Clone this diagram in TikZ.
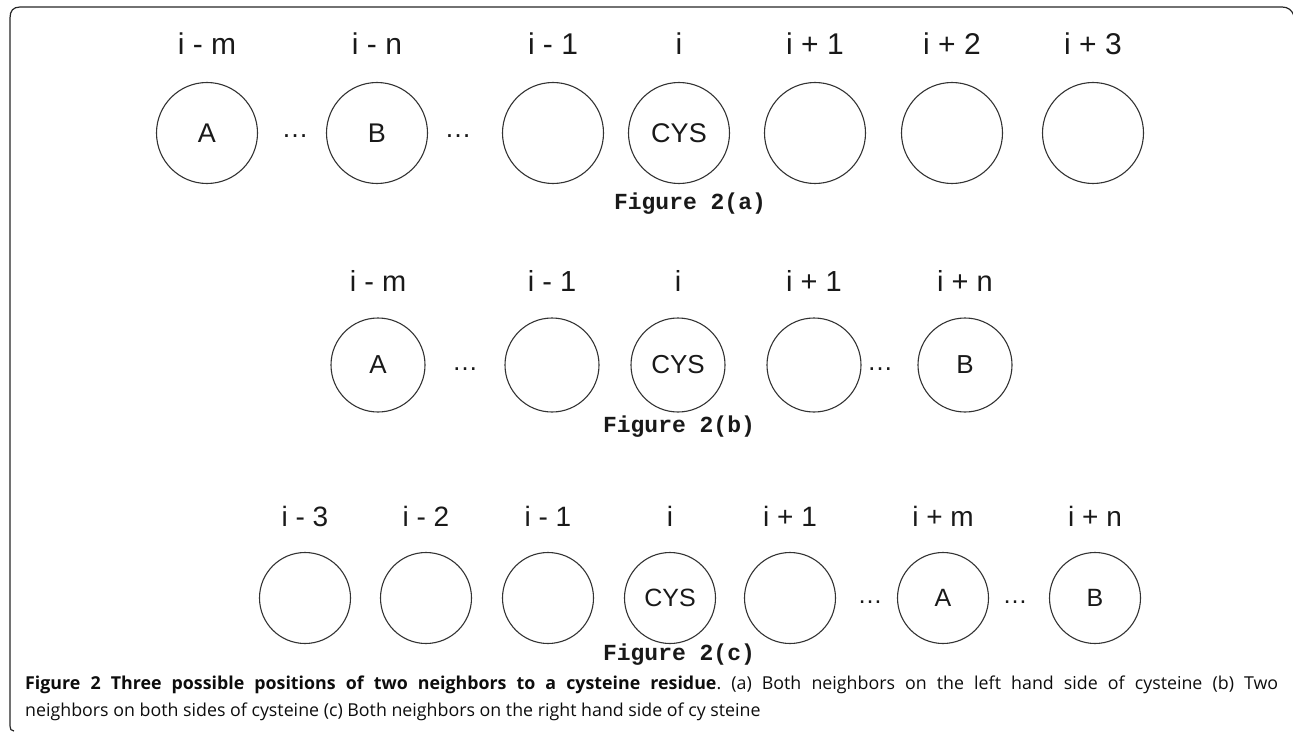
\documentclass[tikz,border=0pt]{standalone}
\usepackage{fontspec}
\setmainfont{Liberation Sans}
\newfontfamily\monofont{Liberation Mono}
\newfontfamily\capfont{Open Sans}
\frenchspacing
\begin{document}
\begin{tikzpicture}[x=1pt,y=-1pt,
  res/.style={circle,draw=black!80,line width=1.1pt,minimum size=#1,inner sep=0pt,text=black!90},
  fa/.style={font=\fontsize{27}{30}\selectfont},
  fb/.style={font=\fontsize{26}{30}\selectfont},
  fc/.style={font=\fontsize{25}{30}\selectfont},
  lab/.style={anchor=base,inner sep=0pt,text=black!90},
  dots/.style={anchor=base,inner sep=0pt,text=black!90},
  figlab/.style={inner sep=0pt,font=\monofont\bfseries\fontsize{23}{26}\selectfont,text=black!90},
  capline/.style={anchor=base west,inner sep=0pt,font=\capfont\fontsize{17.8}{27}\selectfont,text=black!95}
]
\useasboundingbox (0,0) rectangle (1293,733);
% frame
\draw[line width=1.2pt,black!85] (14,731) .. controls (11,731) and (10,729) .. (10,726)
  -- (10,18) .. controls (10,11) and (13,7) .. (20,7) -- (1282,7)
  .. controls (1288,7) and (1292,10) .. (1294,16);

% ---------- row (a)
\begin{scope}[every node/.append style={fa}]
\node[res=101] (a1) at (207,133) {A};
\node[res=101] (a2) at (377,133) {B};
\node[res=101] (a3) at (553,133) {};
\node[res=101] (a4) at (679,133) {CYS};
\node[res=101] (a5) at (815,133) {};
\node[res=101] (a6) at (952,133) {};
\node[res=101] (a7) at (1093,133) {};
\node[dots] (ad1) at (295,138) {…};
\node[dots] (ad2) at (458,138) {…};
\end{scope}
\begin{scope}[every node/.append style={font=\fontsize{30}{34}\selectfont}]
\node[lab] (la1) at (207,55) {i - m};
\node[lab] (la2) at (377,55) {i - n};
\node[lab] (la3) at (553,55) {i - 1};
\node[lab] (la4) at (679,55) {i};
\node[lab] (la5) at (815,55) {i + 1};
\node[lab] (la6) at (952,55) {i + 2};
\node[lab] (la7) at (1093,55) {i + 3};
\end{scope}
\node[figlab] (figa) at (690,204) {Figure 2(a)};

% ---------- row (b)
\begin{scope}[every node/.append style={fb}]
\node[res=94] (b1) at (378,365) {A};
\node[res=94] (b2) at (552,365) {};
\node[res=94] (b3) at (678,365) {CYS};
\node[res=94] (b4) at (814,365) {};
\node[res=94] (b5) at (965,365) {B};
\node[dots] (bd1) at (465,370) {…};
\node[dots] (bd2) at (880,370) {…};
\end{scope}
\begin{scope}[every node/.append style={font=\fontsize{29}{34}\selectfont}]
\node[lab] (lb1) at (378,291) {i - m};
\node[lab] (lb2) at (552,291) {i - 1};
\node[lab] (lb3) at (678,291) {i};
\node[lab] (lb4) at (814,291) {i + 1};
\node[lab] (lb5) at (965,291) {i + n};
\end{scope}
\node[figlab] (figb) at (679,427) {Figure 2(b)};

% ---------- row (c)
\begin{scope}[every node/.append style={fc}]
\node[res=91] (c1) at (305,598) {};
\node[res=91] (c2) at (426,598) {};
\node[res=91] (c3) at (548,598) {};
\node[res=91] (c4) at (670,598) {CYS};
\node[res=91] (c5) at (790,598) {};
\node[res=91] (c6) at (943,598) {A};
\node[res=91] (c7) at (1095,598) {B};
\node[dots] (cd1) at (870,603) {…};
\node[dots] (cd2) at (1015,603) {…};
\end{scope}
\begin{scope}[every node/.append style={font=\fontsize{28}{34}\selectfont}]
\node[lab] (lc1) at (305,526) {i - 3};
\node[lab] (lc2) at (426,526) {i - 2};
\node[lab] (lc3) at (548,526) {i - 1};
\node[lab] (lc4) at (670,526) {i};
\node[lab] (lc5) at (790,526) {i + 1};
\node[lab] (lc6) at (943,526) {i + m};
\node[lab] (lc7) at (1095,526) {i + n};
\end{scope}
\node[figlab] (figc) at (679,655) {Figure 2(c)};

% ---------- caption
\node[capline] (cap1) at (25,689)
{\makebox[1253pt][s]{{\bfseries Figure 2 Three possible positions of two neighbors to a cysteine residue}. (a) Both neighbors on the left hand side of cysteine (b) Two}};
\node[capline] (cap2) at (25,716)
{neighbors on both sides of cysteine (c) Both neighbors on the right hand side of cy steine};
\end{tikzpicture}
\end{document}
